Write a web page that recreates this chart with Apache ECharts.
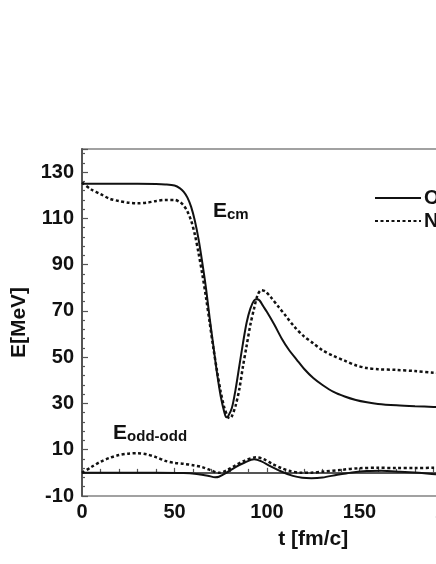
<!DOCTYPE html>
<html><head><meta charset="utf-8">
<script src="https://cdn.jsdelivr.net/npm/echarts@6/dist/echarts.min.js"></script>
<style>html,body{margin:0;padding:0;background:#fff}#c{width:436px;height:564px}</style>
</head><body><div id="c"></div>
<script>
// Ecm curves (t in fm/c, E in MeV)
var ecmSolidT = [0,10,20,30,40,45,50,53,55,57,59,61,63,65,67,69,71,73,75,77,78,79,81,83,85,87,89,91,93,94.5,96,98,100,104,108,112,116,120,125,130,136,142,148,154,160,170,180,190,200];
var ecmSolidE = [125,125,125,125,124.9,124.7,124.2,123,121.5,119,115,109,101,91,80,67,55,43,33,26,24,24.5,28,36,46,56,65,71,74.5,75,74.5,72,69.5,64,58,53,49,45,41,38,35,33,31.5,30.5,29.8,29.2,28.8,28.5,28.3];
var ecmDotT = [0,5,10,15,20,25,30,35,40,45,50,53,55,57,59,61,63,65,67,69,71,73,75,77,79,80,81,83,85,87,89,91,93,95,97,99,102,106,110,115,120,125,130,136,142,148,154,160,170,180,190,200];
var ecmDotE = [125.5,122.5,120.5,118.5,117.5,116.8,116.5,116.8,117.5,118,118,117,115.5,113,109,103,95,86,76,65,54,44,35,28,24,23.6,24.5,29,36,46,55,64,71,77,79,78.5,76,72,68,63,59,56,53,50.5,48.5,46.5,45.3,44.8,44.5,44,43.3,42.8];
// Eodd-odd curves
var oddSolidT = [0,20,40,55,62,68,72,74,78,83,88,93,97,102,108,114,119,124,130,138,146,154,162,172,182,191,200];
var oddSolidE = [0,0,0,-0.1,-0.5,-1.2,-1.9,-1.7,0,2.5,4.5,5.9,5,2.8,0.5,-1.3,-2.1,-2.3,-2,-0.8,0.2,0.8,0.9,0.5,0,-0.6,-1];
var oddDotT = [0,5,10,15,20,25,30,35,40,45,50,55,60,65,70,74,78,83,88,94,98,103,108,113,118,124,130,140,150,160,170,180,190,200];
var oddDotE = [0,2.5,4.8,6.5,7.7,8.3,8.5,8,6.8,5.2,4.3,3.9,3.3,2.5,1,0,1,3.3,5.3,6.7,6,3.8,2,0.7,0.1,0.1,0.5,1.3,2,2.2,2.1,2.1,2.2,2.3];
var seriesNames = ['Odd-odd included','No odd-odd'];
var yTicks = [-10,10,30,50,70,90,110,130];
var xTicks = [0,50,100,150,200,250];

function pairs(t,e){return t.map(function(v,i){return [v,e[i]];});}
var font = '"Liberation Sans", Arial, sans-serif';
var chart = echarts.init(document.getElementById('c'));
var solidStyle = {color:'#111',width:2,type:'solid'};
var dotStyle = {color:'#111',width:2.5,type:[3,2.5]};
chart.setOption({
  animation:false,
  backgroundColor:'#fff',
  grid:{left:82,top:149,width:462.5,height:347,outerBoundsMode:'none',containLabel:false,show:true,borderColor:'#444',borderWidth:1.2,backgroundColor:'transparent'},
  legend:{
    orient:'vertical',left:369,top:183,itemWidth:46,itemHeight:14,itemGap:3,
    data:seriesNames,
    itemStyle:{opacity:0},
    textStyle:{fontFamily:font,fontWeight:'bold',fontSize:20,color:'#111',padding:[0,0,0,-2]}
  },
  xAxis:{
    type:'value',min:0,max:250,interval:50,
    axisLine:{show:true,lineStyle:{color:'#555',width:2}},
    axisTick:{show:true,inside:true,length:5,lineStyle:{color:'#555',width:1.2}},
    minorTick:{show:true,splitNumber:5,length:4,lineStyle:{color:'#555',width:1.2}},
    splitLine:{show:false},
    axisLabel:{fontFamily:font,fontWeight:'bold',fontSize:20,color:'#111',margin:6,
      formatter:function(v){return xTicks.indexOf(v)>=0?String(v):'';}},
    name:'t [fm/c]',nameLocation:'middle',nameGap:33,
    nameTextStyle:{fontFamily:font,fontWeight:'bold',fontSize:21,color:'#111'}
  },
  yAxis:{
    type:'value',min:-10,max:140,interval:20,
    axisLine:{show:true,lineStyle:{color:'#555',width:2}},
    axisTick:{show:true,inside:true,length:6,lineStyle:{color:'#555',width:1.2}},
    minorTick:{show:true,splitNumber:5,length:3,lineStyle:{color:'#555',width:1.2}},
    splitLine:{show:false},
    axisLabel:{fontFamily:font,fontWeight:'bold',fontSize:20,color:'#111',margin:8,
      formatter:function(v){return yTicks.indexOf(v)>=0?String(v):'';}},
    name:'E[MeV]',nameLocation:'middle',nameGap:45,nameRotate:90,
    nameTextStyle:{fontFamily:font,fontWeight:'bold',fontSize:21,color:'#111'}
  },
  series:[
    {name:seriesNames[0],type:'line',data:pairs(ecmSolidT,ecmSolidE),symbol:'none',smooth:0.3,lineStyle:solidStyle,itemStyle:{color:'#111'}},
    {name:seriesNames[1],type:'line',data:pairs(ecmDotT,ecmDotE),symbol:'none',smooth:0.3,lineStyle:dotStyle,itemStyle:{color:'#111'}},
    {name:seriesNames[0],type:'line',data:pairs(oddSolidT,oddSolidE),symbol:'none',smooth:0.3,lineStyle:solidStyle,itemStyle:{color:'#111'}},
    {name:seriesNames[1],type:'line',data:pairs(oddDotT,oddDotE),symbol:'none',smooth:0.3,lineStyle:dotStyle,itemStyle:{color:'#111'}}
  ]
});
var p1 = chart.convertToPixel({gridIndex:0},[70.8,112.8]);
var p2 = chart.convertToPixel({gridIndex:0},[16.8,16.8]);
function lbl(p,sub){
  return {type:'text',left:p[0],top:p[1]-11,style:{
    text:'{a|E}{b|'+sub+'}',fill:'#111',
    rich:{a:{fontFamily:font,fontWeight:'bold',fontSize:21,fill:'#111',verticalAlign:'bottom'},
          b:{fontFamily:font,fontWeight:'bold',fontSize:15,fill:'#111',padding:[6,0,0,0],verticalAlign:'bottom'}}}};
}
chart.setOption({graphic:[lbl(p1,'cm'),lbl(p2,'odd-odd')]});
</script></body></html>
